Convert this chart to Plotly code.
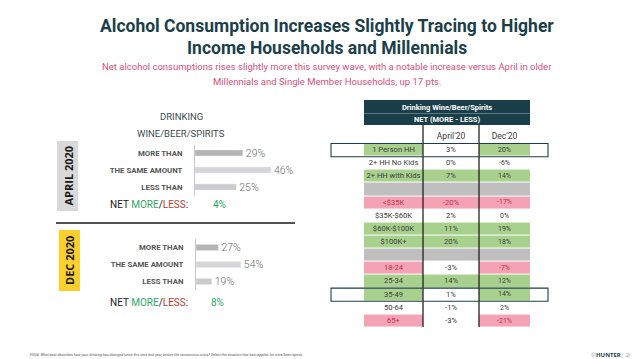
import plotly.graph_objects as go

W, H = 638, 359
def px(x): return x / W
def py(y): return 1 - y / H

# ---------------- data ----------------
bar_categories = ["MORE THAN", "THE SAME AMOUNT", "LESS THAN"]
april_values = [29, 46, 25]
dec_values = [27, 54, 19]
april_net = "4%"
dec_net = "8%"

table_rows = ["1 Person HH", "2+ HH No Kids", "2+ HH with Kids", "",
              "<$35K", "$35K-$60K", "$60K-$100K", "$100K+", "",
              "18-24", "25-34", "35-49", "50-64", "65+"]
table_april = [3, 0, 7, None, -20, 2, 11, 20, None, -3, 14, 1, -1, -3]
table_dec = [20, -6, 14, None, -17, 0, 19, 18, None, -7, 12, 14, 2, -21]
# cell shading codes: 0 white, 1 green, 2 pink, 3 gray   (label, April, Dec)
table_shade = [
    [1, 0, 1], [0, 0, 0], [1, 1, 1], [3, 3, 3],
    [2, 2, 2], [0, 0, 0], [1, 1, 1], [1, 1, 1], [3, 3, 3],
    [2, 0, 2], [1, 1, 1], [1, 0, 1], [0, 0, 0], [2, 0, 2],
]
col_headers = ["April'20", "Dec'20"]
highlight_rows = ["1 Person HH", "35-49"]

# ---------------- styles ----------------
NARROW = "Roboto, Arial, sans-serif"
TEAL = "#1b3f4a"
PINK_TXT = "#d9507a"
GREEN = "#a9d18e"
PINK = "#f4a3b4"
GRAY = "#bfbfbf"
GREEN_TXT = "#2ea866"
RED_TXT = "#c0392b"
bar_colors = ["#b4b4b4", "#d6d6d6", "#cbcbcb"]

fig = go.Figure()

# ---- bar charts ----
for vals, xa, ya in [(april_values, "x", "y"), (dec_values, "x2", "y2")]:
    fig.add_trace(go.Bar(
        x=vals, y=bar_categories, orientation="h", width=0.36,
        marker=dict(color=bar_colors), text=[f"{v}%" for v in vals],
        textposition="outside", cliponaxis=False, constraintext="none",
        textfont=dict(family=NARROW, size=10.5, color="#6b6b6b", weight=300),
        xaxis=xa, yaxis=ya, hoverinfo="skip"))

# ---- table as heatmap ----
n = len(table_rows)
col_edges = [0, 59, 115, 166]
row_edges = list(range(n + 1))
cs = [[0, "#ffffff"], [0.25, "#ffffff"], [0.25, GREEN], [0.5, GREEN],
      [0.5, PINK], [0.75, PINK], [0.75, GRAY], [1, GRAY]]
fig.add_trace(go.Heatmap(
    z=table_shade, x=col_edges, y=row_edges, zmin=-0.5, zmax=3.5,
    colorscale=cs, showscale=False, ygap=1, hoverinfo="skip",
    xaxis="x3", yaxis="y3"))

centers = [(col_edges[i] + col_edges[i + 1]) / 2 for i in range(3)]
tx, ty, tt, tc, ts = [], [], [], [], []
for i, lab in enumerate(table_rows):
    if table_april[i] is None:
        continue
    vals = [lab, f"{table_april[i]}%", f"{table_dec[i]}%"]
    for j in range(3):
        tx.append(centers[j]); ty.append(i + 0.5); tt.append(vals[j])
        tc.append("#c4314f" if table_shade[i][j] == 2 else "#3a3a3a")
        ts.append(7 if j == 2 else 7.6)
for j, h in enumerate(col_headers):
    tx.append(centers[j + 1]); ty.append(-0.5); tt.append(h)
    tc.append("#3a3a3a"); ts.append(8.5)
fig.add_trace(go.Scatter(
    x=tx, y=ty, text=tt, mode="text", textposition="middle center",
    textfont=dict(family=NARROW, size=ts, color=tc), hoverinfo="skip",
    xaxis="x3", yaxis="y3", cliponaxis=False))

ax_common = dict(showgrid=False, zeroline=False, showticklabels=False, fixedrange=True)
ycat = dict(categoryorder="array", categoryarray=bar_categories, autorange="reversed",
            showgrid=False, zeroline=False, showline=True, linecolor="#c8c8c8",
            linewidth=1, ticks="", ticklabelstandoff=10,
            tickfont=dict(family=NARROW, size=7.8, color="#555555", weight="bold"))
fig.update_layout(
    width=W, height=H, margin=dict(l=0, r=0, t=0, b=0),
    paper_bgcolor="white", plot_bgcolor="rgba(0,0,0,0)", showlegend=False,
    xaxis=dict(domain=[px(187), px(300)], range=[0, 113 / 1.65], anchor="y", **ax_common),
    yaxis=dict(domain=[py(187.5), py(136.5)], anchor="x", **ycat),
    xaxis2=dict(domain=[px(188), px(300)], range=[0, 112 / 0.83], anchor="y2", **ax_common),
    yaxis2=dict(domain=[py(282), py(231)], anchor="x2", **ycat),
    xaxis3=dict(domain=[px(356), px(522)], range=[0, 166], anchor="y3", **ax_common),
    yaxis3=dict(domain=[py(319.6), py(122.4)], range=[n, -1], anchor="x3", **ax_common),
)

shapes = []
shapes.append(dict(type="rect", xref="paper", yref="paper", x0=px(49), x1=px(70),
                   y0=py(203), y1=py(133), fillcolor="#d9d9d9", line=dict(width=0)))
shapes.append(dict(type="rect", xref="paper", yref="paper", x0=px(51), x1=px(72),
                   y0=py(283), y1=py(222), fillcolor="#fbcf2c", line=dict(width=0)))
shapes.append(dict(type="line", xref="paper", yref="paper", x0=px(48), x1=px(287),
                   y0=py(215), y1=py(215), line=dict(color="#1a1a1a", width=1.5)))
shapes.append(dict(type="rect", xref="paper", yref="paper", x0=px(356), x1=px(522),
                   y0=py(117), y1=py(92), fillcolor=TEAL, line=dict(width=0)))
shapes.append(dict(type="line", xref="paper", yref="paper", x0=px(356), x1=px(522),
                   y0=py(105.5), y1=py(105.5), line=dict(color="#8aa0a6", width=0.6)))
for xe in col_edges[1:3]:
    shapes.append(dict(type="line", xref="x3", yref="paper", x0=xe, x1=xe,
                       y0=py(319), y1=py(117), line=dict(color="#111111", width=1.2)))
for r in highlight_rows:
    i = table_rows.index(r)
    shapes.append(dict(type="rect", xref="paper", yref="y3", x0=px(323), x1=px(540),
                       y0=i, y1=i + 1, line=dict(color=TEAL, width=1.1),
                       fillcolor="rgba(0,0,0,0)"))
fig.update_layout(shapes=shapes)

ann = []
def A(text, x, y, size, color="#333", xanchor="center", family=NARROW, **kw):
    ann.append(dict(text=text, x=px(x), y=py(y), xref="paper", yref="paper",
                    showarrow=False, xanchor=xanchor, yanchor="middle",
                    font=dict(family=family, size=size, color=color), **kw))

A("<b>Alcohol Consumption Increases Slightly Tracing to Higher</b>", 319, 18, 17.5, TEAL)
A("<b>Income Households and Millennials</b>", 319, 40, 17.5, TEAL)
A("Net alcohol consumptions rises slightly more this survey wave, with a notable increase versus April in older",
  319, 59, 9.5, PINK_TXT)
A("Millennials and Single Member Households, up 17 pts.", 319, 73, 9.5, PINK_TXT)

A("DRINKING", 173, 108, 9.5, "#3b4a50")
A("WINE/BEER/SPIRITS", 173, 125, 9.5, "#3b4a50")

A("<b>APRIL 2020</b>", 59.5, 168, 11, "#1a1a1a", textangle=-90, family="Open Sans, Arial, sans-serif")
A("<b>DEC 2020</b>", 61.5, 252.5, 11, "#1a1a1a", textangle=-90, family="Open Sans, Arial, sans-serif")

net_txt = (f"NET <span style='color:{GREEN_TXT}'>MORE</span>/"
           f"<span style='color:{RED_TXT}'>LESS</span>:")
A(net_txt, 100, 196, 10, "#1a1a1a", xanchor="left")
A(april_net, 211, 196, 10, GREEN_TXT)
A(net_txt, 100, 294, 10, "#1a1a1a", xanchor="left")
A(dec_net, 209, 294, 10, GREEN_TXT)

A("<b>Drinking Wine/Beer/Spirits</b>", 439, 99, 7.5, "white")
A("<b>NET (MORE - LESS)</b>", 439, 111, 7.5, "white")

A("<i>FSQ4. What best describes how your drinking has changed since this time last year, before the coronavirus crisis? "
  "Select the situation that best applies for wine/beer/spirits.</i>", 20, 347, 3.7, "#555555", xanchor="left")
A("<span style='color:#999'>©</span><b>HUNTER</b><span style='color:#999'>| 2021</span>", 633, 347, 6,
  TEAL, xanchor="right", family="Open Sans, Arial, sans-serif")

fig.update_layout(annotations=ann)
fig.write_html("out.html")
